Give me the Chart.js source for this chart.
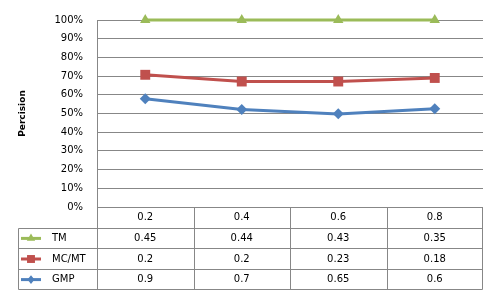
<!DOCTYPE html>
<html><head><meta charset="utf-8">
<script src="https://cdn.jsdelivr.net/npm/chart.js@4/dist/chart.umd.min.js"></script>
<style>html,body{margin:0;padding:0;background:#fff}#wrap{width:495px;height:295px;position:relative}</style>
</head><body><div id="wrap"><canvas id="c" width="495" height="295"></canvas></div>
<script>
// ---- data ----
const categories = ['0.2', '0.4', '0.6', '0.8'];
const seriesNames = ['TM', 'MC/MT', 'GMP'];
const tmValues = [1.00, 1.00, 1.00, 1.00];
const mcmtValues = [0.707, 0.671, 0.671, 0.690];
const gmpValues = [0.579, 0.521, 0.498, 0.526];
const tableTM = ['0.45', '0.44', '0.43', '0.35'];
const tableMCMT = ['0.2', '0.2', '0.23', '0.18'];
const tableGMP = ['0.9', '0.7', '0.65', '0.6'];
const yAxisTitle = 'Percision';

// ---- style ----
const GRID = '#878787';
const FONT = 'DejaVu Sans';
const colors = ['#9BBB59', '#C0504D', '#4F81BD'];
const shapes = ['triangle', 'rect', 'rectRot'];
const radii = [6, 7, 5.5];

function drawMarker(ctx, shape, x, y, r, color) {
  ctx.save();
  ctx.fillStyle = color;
  ctx.beginPath();
  if (shape === 'triangle') {
    ctx.moveTo(x, y - r);
    ctx.lineTo(x + r * 0.866, y + r * 0.5);
    ctx.lineTo(x - r * 0.866, y + r * 0.5);
  } else if (shape === 'rect') {
    const s = r * Math.SQRT1_2;
    ctx.rect(x - s, y - s, 2 * s, 2 * s);
  } else {
    ctx.moveTo(x, y - r);
    ctx.lineTo(x + r * 0.8, y);
    ctx.lineTo(x, y + r);
    ctx.lineTo(x - r * 0.8, y);
  }
  ctx.closePath();
  ctx.fill();
  ctx.restore();
}

const tablePlugin = {
  id: 'dataTable',
  afterDraw(chart) {
    const ctx = chart.ctx;
    const {left, right, bottom} = chart.chartArea;
    const xs = chart.scales.x;
    const n = categories.length;
    const colW = (right - left) / n;
    const rowH = 20.6;
    const legLeft = 18.5;
    const rows = [tableTM, tableMCMT, tableGMP];
    const L = Math.round(left) + 0.5;
    const R = Math.round(right) - 0.5;
    const yr = i => Math.round(bottom + rowH * i) + 0.5;
    ctx.save();
    ctx.strokeStyle = GRID;
    ctx.lineWidth = 1;
    ctx.beginPath();
    // horizontal lines
    for (let i = 1; i <= 4; i++) {
      ctx.moveTo(legLeft, yr(i));
      ctx.lineTo(R, yr(i));
    }
    // vertical lines
    ctx.moveTo(legLeft, yr(1));
    ctx.lineTo(legLeft, yr(4));
    for (let c = 0; c <= n; c++) {
      const xx = Math.round(left + colW * c) + (c === n ? -0.5 : 0.5);
      ctx.moveTo(xx, yr(0));
      ctx.lineTo(xx, yr(4));
    }
    ctx.stroke();

    ctx.fillStyle = '#000';
    ctx.font = '10px "' + FONT + '"';
    ctx.textAlign = 'center';
    ctx.textBaseline = 'middle';
    categories.forEach((c, i) => {
      ctx.fillText(c, xs.getPixelForValue(i), bottom + rowH * 0.5 + 0.5);
    });
    rows.forEach((vals, r) => {
      const cy = bottom + rowH * (r + 1.5) + 0.5;
      vals.forEach((v, i) => ctx.fillText(v, xs.getPixelForValue(i), cy));
    });
    // legend keys
    ctx.textAlign = 'left';
    seriesNames.forEach((name, r) => {
      const cy = bottom + rowH * (r + 1.5) + 0.5;
      ctx.strokeStyle = colors[r];
      ctx.lineWidth = 3;
      ctx.beginPath();
      ctx.moveTo(21, cy);
      ctx.lineTo(41, cy);
      ctx.stroke();
      drawMarker(ctx, shapes[r], 31, cy, radii[r] * 0.8, colors[r]);
      ctx.fillStyle = '#000';
      ctx.fillText(name, 52, cy);
    });
    ctx.restore();
  }
};

const mk = (label, data, i) => ({
  label, data,
  borderColor: colors[i], backgroundColor: colors[i],
  borderWidth: 3, pointStyle: shapes[i], pointRadius: radii[i],
  pointBorderWidth: 0, pointBackgroundColor: colors[i], pointBorderColor: colors[i],
  tension: 0, clip: false, order: i
});

new Chart(document.getElementById('c'), {
  type: 'line',
  data: {
    labels: categories,
    datasets: [mk(seriesNames[0], tmValues, 0), mk(seriesNames[1], mcmtValues, 1), mk(seriesNames[2], gmpValues, 2)]
  },
  options: {
    responsive: false, animation: false, devicePixelRatio: 1,
    layout: {padding: {left: 0, right: 12, top: 11, bottom: 88}},
    plugins: {legend: {display: false}, tooltip: {enabled: false}},
    scales: {
      x: {display: false, offset: true},
      y: {
        min: 0, max: 1,
        afterFit: s => { s.width = 97; },
        ticks: {stepSize: 0.1, padding: 14, color: '#000', font: {family: FONT, size: 10},
          callback: v => Math.round(v * 100) + '%'},
        grid: {color: GRID, lineWidth: 1, drawTicks: false},
        border: {color: GRID, width: 1},
        title: {display: true, text: yAxisTitle, color: '#000',
          font: {family: FONT, size: 9, weight: 'bold'}, padding: {top: 17, bottom: 0}}
      }
    }
  },
  plugins: [tablePlugin]
});
</script></body></html>
